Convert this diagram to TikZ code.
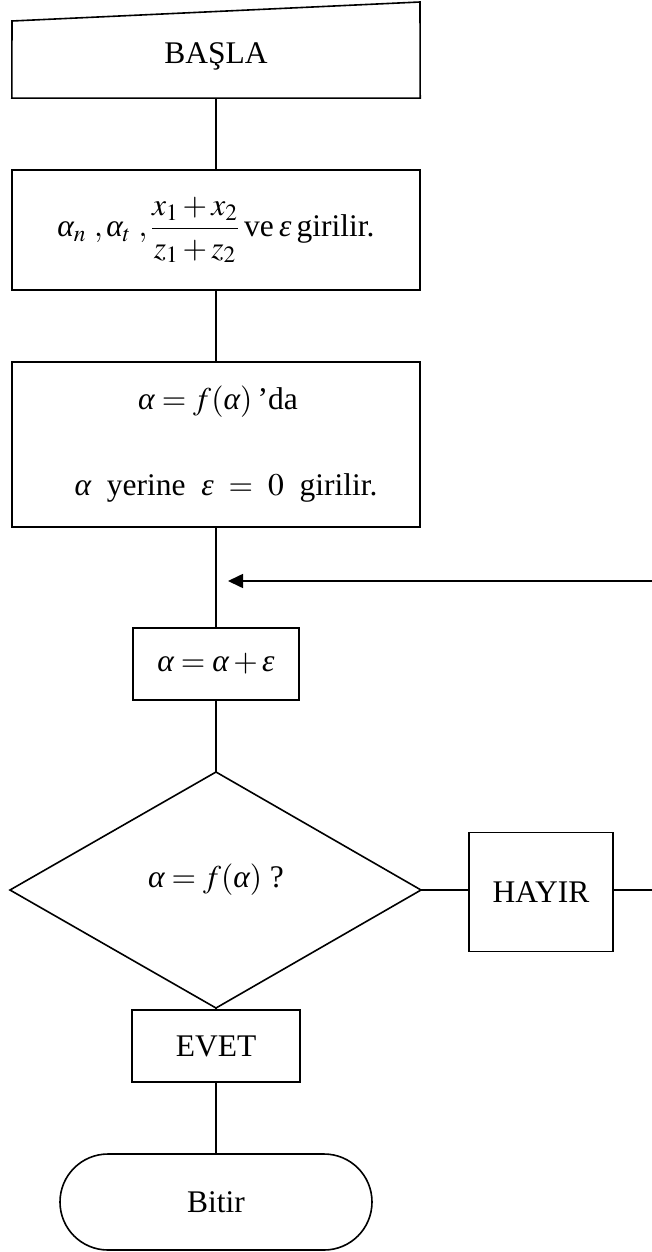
\documentclass[tikz,border=0pt]{standalone}
\usepackage{mathptmx}
\usepackage[no-math]{fontspec}
\setmainfont{Liberation Serif}
\usetikzlibrary{arrows.meta}
\newcommand{\galpha}{\mbox{\itshape α}}
\newcommand{\geps}{\mbox{\itshape ε}}
\tikzset{
  x=1pt, y=-1pt,
  every node/.style={font=\fontsize{31.5pt}{38pt}\selectfont, inner sep=0pt},
  flowline/.style={line width=1.6pt},
  stepbox/.style={draw, line width=1.6pt, rectangle},
}
\begin{document}
\begin{tikzpicture}
\useasboundingbox (0,0) rectangle (652,1252);
% start (manual input shape)
\node[minimum width=408pt, minimum height=77pt] (start) at (216,59.5) {};
\draw[flowline] (start.south west) -- (12,21) -- (420,2) -- (start.south east) -- cycle;
\node (starttext) at (216,56) {BAŞLA};
% input
\node[stepbox, minimum width=408pt, minimum height=120pt] (in) at (216,230)
  {$\displaystyle\galpha_{n}\ ,\galpha_{t}\ ,\frac{x_1+x_2}{z_1+z_2}$\,ve\,$\geps$\,girilir.};
% process
\node[stepbox, minimum width=408pt, minimum height=165pt] (proc) at (216,444.5) {};
\node (proc1) at (218,402) {$\galpha = f(\galpha)$\,’da};
\node (proc2) at (226,488) {$\galpha$\ \ yerine\ \ $\geps\ =\ 0$\ \ girilir.};
% increment
\node[stepbox, minimum width=166pt, minimum height=72pt] (inc) at (216,664) {$\galpha = \galpha + \geps$};
% decision
\coordinate (dtop) at (216,772);
\coordinate (dbot) at (216,1008);
\coordinate (dleft) at (10,890);
\coordinate (dright) at (421,890);
\draw[flowline] (dtop) -- (dright) -- (dbot) -- (dleft) -- cycle;
\node (dec) at (216,880) {$\galpha = f(\galpha)$\ ?};
% hayir
\node[stepbox, minimum width=144pt, minimum height=119pt] (hayir) at (541,892) {HAYIR};
% evet
\node[stepbox, minimum width=168pt, minimum height=72pt] (evet) at (216,1046) {EVET};
% end
\node[stepbox, rounded corners=48pt, minimum width=312pt, minimum height=96pt] (end) at (216,1202) {Bitir};
% connectors
\draw[flowline] (start.south) -- (in.north);
\draw[flowline] (in.south) -- (proc.north);
\draw[flowline] (proc.south) -- (inc.north);
\draw[flowline] (inc.south) -- (dtop);
\draw[flowline] (dbot) -- (evet.north);
\draw[flowline] (evet.south) -- (end.north);
\draw[flowline] (dright) -- (hayir.west |- dright);
\coordinate (hayirout) at (652,890);
\draw[flowline] (hayir.east |- dright) -- (hayirout);
\coordinate (backin) at (652,581);
\coordinate (backtip) at (228,581);
\draw[flowline, -{Triangle[length=15pt, width=14pt]}] (backin) -- (backtip);
\end{tikzpicture}
\end{document}
